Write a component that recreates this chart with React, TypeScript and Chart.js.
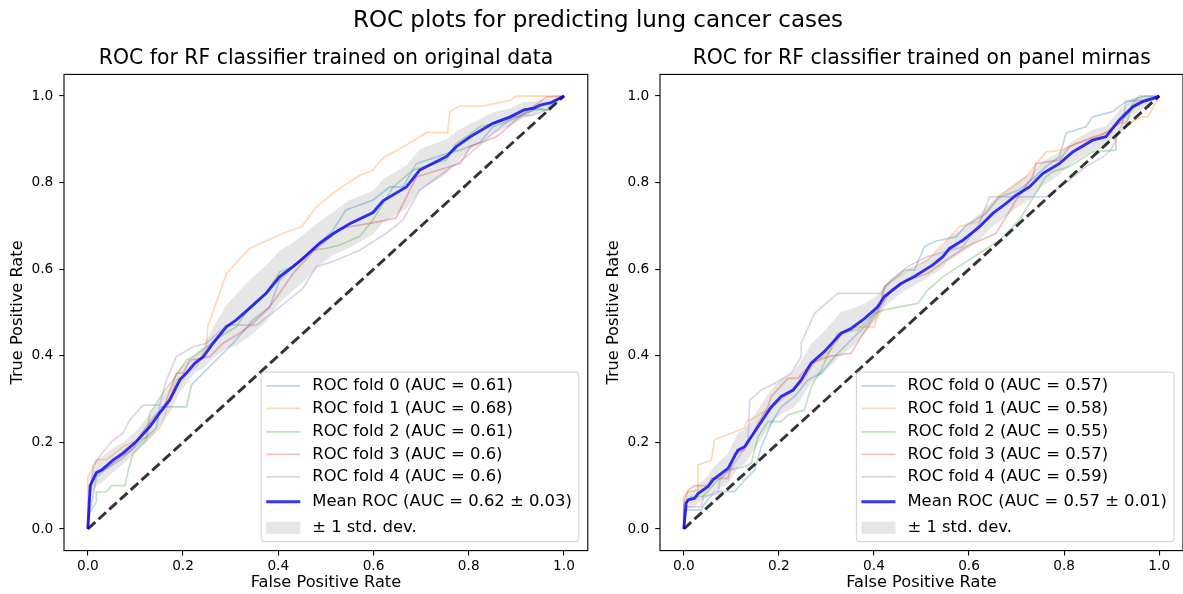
import React, { useEffect, useRef } from 'react';
import { Chart, registerables } from 'chart.js';

Chart.register(...registerables);

const FONT = '"DejaVu Sans", sans-serif';

const SUPTITLE = 'ROC plots for predicting lung cancer cases';
const TITLE_LEFT = 'ROC for RF classifier trained on original data';
const TITLE_RIGHT = 'ROC for RF classifier trained on panel mirnas';
const X_LABEL = 'False Positive Rate';
const Y_LABEL = 'True Positive Rate';
const TICKS = [0, 0.2, 0.4, 0.6, 0.8, 1.0];
const FOLD_RGB = ['31,119,180', '255,127,14', '44,160,44', '214,39,40', '148,103,189'];
const STD_LABEL = '± 1 std. dev.';
const CHANCE: number[][] = [[0, 0], [1, 1]];

// ---------- Left panel (original data) ----------
const LEFT_AUC = ['0.61', '0.68', '0.61', '0.6', '0.6'];
const LEFT_MEAN_LABEL = 'Mean ROC (AUC = 0.62 ± 0.03)';

const L_FOLD0 = [[0,0],[0.004,0.04],[0.011,0.075],[0.018,0.12],[0.04,0.14],[0.07,0.16],[0.1,0.19],[0.125,0.215],[0.144,0.233],[0.151,0.282],[0.207,0.282],[0.218,0.333],[0.263,0.383],[0.305,0.429],[0.347,0.483],[0.382,0.513],[0.403,0.575],[0.431,0.606],[0.487,0.66],[0.515,0.69],[0.542,0.737],[0.599,0.76],[0.634,0.79],[0.662,0.79],[0.69,0.844],[0.753,0.867],[0.782,0.875],[0.824,0.894],[0.851,0.929],[0.908,0.952],[0.942,0.972],[0.964,0.968],[0.978,0.986],[1,1]];
const L_FOLD1 = [[0,0],[0,0.12],[0.018,0.16],[0.04,0.16],[0.074,0.19],[0.102,0.205],[0.13,0.213],[0.151,0.233],[0.158,0.252],[0.172,0.298],[0.186,0.344],[0.207,0.36],[0.228,0.375],[0.249,0.421],[0.252,0.467],[0.291,0.59],[0.34,0.648],[0.41,0.683],[0.449,0.698],[0.48,0.744],[0.529,0.787],[0.571,0.817],[0.599,0.829],[0.62,0.857],[0.669,0.887],[0.712,0.916],[0.756,0.916],[0.76,0.965],[0.782,0.977],[0.83,0.977],[0.887,0.99],[0.9,1.0],[1,1]];
const L_FOLD2 = [[0,0],[0.004,0.037],[0.018,0.063],[0.018,0.085],[0.039,0.086],[0.05,0.1],[0.078,0.1],[0.085,0.136],[0.095,0.175],[0.123,0.205],[0.13,0.267],[0.158,0.314],[0.179,0.344],[0.207,0.39],[0.228,0.402],[0.277,0.444],[0.312,0.467],[0.34,0.513],[0.375,0.545],[0.403,0.594],[0.431,0.606],[0.473,0.644],[0.501,0.648],[0.529,0.656],[0.571,0.676],[0.599,0.714],[0.641,0.79],[0.683,0.829],[0.753,0.852],[0.774,0.891],[0.824,0.929],[0.879,0.945],[0.937,0.968],[0.971,0.968],[0.978,0.986],[1,1]];
const L_FOLD3 = [[0,0],[0.005,0.1],[0.018,0.13],[0.04,0.14],[0.067,0.164],[0.095,0.186],[0.113,0.221],[0.144,0.267],[0.158,0.275],[0.186,0.36],[0.2,0.36],[0.214,0.39],[0.256,0.398],[0.284,0.429],[0.319,0.452],[0.347,0.475],[0.382,0.513],[0.403,0.545],[0.431,0.59],[0.473,0.64],[0.529,0.694],[0.592,0.706],[0.647,0.718],[0.69,0.813],[0.725,0.825],[0.782,0.844],[0.803,0.883],[0.858,0.906],[0.887,0.933],[0.916,0.961],[0.964,0.998],[1,1]];
const L_FOLD4 = [[0,0],[0.011,0.144],[0.025,0.168],[0.05,0.202],[0.074,0.221],[0.088,0.252],[0.116,0.286],[0.151,0.286],[0.165,0.344],[0.186,0.398],[0.221,0.421],[0.249,0.429],[0.291,0.471],[0.354,0.471],[0.396,0.506],[0.452,0.556],[0.48,0.606],[0.515,0.618],[0.571,0.644],[0.627,0.683],[0.662,0.714],[0.697,0.783],[0.745,0.821],[0.795,0.86],[0.851,0.914],[0.893,0.952],[0.935,0.956],[0.964,0.968],[1,1]];
const L_MEAN = [[0,0],[0.005,0.1],[0.018,0.13],[0.029,0.136],[0.053,0.159],[0.074,0.175],[0.102,0.202],[0.13,0.236],[0.151,0.268],[0.172,0.298],[0.193,0.344],[0.207,0.36],[0.225,0.383],[0.242,0.397],[0.263,0.429],[0.291,0.467],[0.312,0.483],[0.34,0.51],[0.375,0.545],[0.403,0.583],[0.431,0.606],[0.452,0.625],[0.487,0.66],[0.515,0.682],[0.55,0.705],[0.599,0.731],[0.62,0.758],[0.669,0.79],[0.697,0.829],[0.753,0.86],[0.774,0.883],[0.803,0.906],[0.851,0.937],[0.887,0.952],[0.916,0.968],[0.937,0.972],[0.95,0.979],[0.971,0.984],[1,1]];
const L_STD = [0,0.02,0.03,0.03,0.028,0.025,0.025,0.028,0.03,0.03,0.028,0.025,0.022,0.025,0.035,0.05,0.06,0.065,0.065,0.06,0.055,0.055,0.05,0.05,0.055,0.05,0.05,0.05,0.048,0.04,0.035,0.03,0.025,0.02,0.018,0.015,0.012,0.01,0];

// ---------- Right panel (panel mirnas) ----------
const RIGHT_AUC = ['0.57', '0.58', '0.55', '0.57', '0.59'];
const RIGHT_MEAN_LABEL = 'Mean ROC (AUC = 0.57 ± 0.01)';

const R_FOLD0 = [[0,0],[0.005,0.044],[0.037,0.044],[0.044,0.059],[0.065,0.086],[0.107,0.086],[0.128,0.113],[0.149,0.136],[0.163,0.19],[0.184,0.244],[0.205,0.282],[0.233,0.306],[0.261,0.344],[0.289,0.36],[0.317,0.398],[0.352,0.436],[0.387,0.475],[0.415,0.521],[0.422,0.56],[0.464,0.598],[0.485,0.598],[0.506,0.652],[0.527,0.664],[0.573,0.675],[0.594,0.702],[0.636,0.729],[0.664,0.767],[0.706,0.783],[0.727,0.802],[0.762,0.837],[0.79,0.86],[0.804,0.914],[0.846,0.929],[0.86,0.952],[0.902,0.964],[0.93,0.987],[0.96,0.99],[1,1]];
const R_FOLD1 = [[0,0],[0,0.075],[0.009,0.086],[0.03,0.09],[0.03,0.148],[0.058,0.159],[0.065,0.206],[0.128,0.233],[0.132,0.248],[0.177,0.275],[0.205,0.298],[0.247,0.336],[0.275,0.383],[0.31,0.413],[0.331,0.448],[0.366,0.467],[0.401,0.467],[0.422,0.56],[0.471,0.598],[0.513,0.621],[0.58,0.698],[0.62,0.71],[0.664,0.771],[0.692,0.79],[0.72,0.814],[0.762,0.871],[0.797,0.875],[0.825,0.891],[0.874,0.906],[0.916,0.937],[0.944,0.941],[0.965,0.952],[0.976,0.952],[0.986,0.971],[1,1]];
const R_FOLD2 = [[0,0],[0,0.055],[0.016,0.075],[0.04,0.075],[0.072,0.113],[0.093,0.136],[0.128,0.144],[0.142,0.152],[0.156,0.213],[0.177,0.248],[0.205,0.248],[0.219,0.263],[0.254,0.275],[0.268,0.329],[0.289,0.367],[0.324,0.452],[0.366,0.46],[0.401,0.498],[0.422,0.506],[0.492,0.521],[0.513,0.552],[0.545,0.583],[0.622,0.637],[0.664,0.667],[0.706,0.714],[0.762,0.814],[0.776,0.825],[0.811,0.837],[0.86,0.871],[0.909,0.875],[0.909,0.906],[0.93,0.933],[0.944,0.983],[0.958,1.0],[1,1]];
const R_FOLD3 = [[0,0],[0,0.06],[0.009,0.09],[0.023,0.1],[0.051,0.1],[0.058,0.117],[0.093,0.117],[0.107,0.175],[0.128,0.182],[0.156,0.244],[0.177,0.282],[0.184,0.306],[0.219,0.348],[0.24,0.348],[0.268,0.383],[0.303,0.398],[0.352,0.406],[0.373,0.444],[0.415,0.513],[0.436,0.552],[0.471,0.575],[0.513,0.59],[0.552,0.621],[0.594,0.652],[0.657,0.683],[0.678,0.721],[0.699,0.76],[0.734,0.814],[0.741,0.844],[0.79,0.852],[0.811,0.883],[0.853,0.902],[0.895,0.918],[0.923,0.945],[0.951,0.983],[1,1]];
const R_FOLD4 = [[0,0],[0.005,0.051],[0.037,0.051],[0.041,0.075],[0.072,0.082],[0.076,0.113],[0.097,0.136],[0.121,0.175],[0.135,0.206],[0.139,0.298],[0.163,0.321],[0.191,0.336],[0.226,0.36],[0.247,0.398],[0.247,0.429],[0.275,0.498],[0.324,0.544],[0.415,0.544],[0.436,0.575],[0.471,0.606],[0.513,0.629],[0.538,0.637],[0.587,0.652],[0.622,0.706],[0.643,0.767],[0.762,0.767],[0.811,0.806],[0.846,0.837],[0.888,0.864],[0.902,0.883],[0.923,0.937],[0.93,0.987],[0.972,1.0],[1,1]];
const R_MEAN = [[0,0],[0.005,0.06],[0.009,0.067],[0.023,0.071],[0.03,0.082],[0.051,0.098],[0.062,0.114],[0.093,0.14],[0.114,0.182],[0.128,0.19],[0.156,0.236],[0.184,0.282],[0.205,0.306],[0.23,0.321],[0.247,0.344],[0.268,0.383],[0.296,0.41],[0.331,0.452],[0.352,0.463],[0.38,0.486],[0.408,0.513],[0.422,0.537],[0.457,0.567],[0.485,0.583],[0.524,0.61],[0.545,0.629],[0.559,0.648],[0.587,0.667],[0.622,0.698],[0.65,0.729],[0.678,0.752],[0.699,0.771],[0.727,0.79],[0.755,0.821],[0.79,0.844],[0.818,0.871],[0.86,0.898],[0.888,0.906],[0.916,0.945],[0.944,0.975],[0.965,0.987],[0.986,0.994],[1,1]];
const R_STD = [0,0.015,0.02,0.02,0.022,0.025,0.028,0.035,0.04,0.04,0.04,0.04,0.04,0.042,0.043,0.045,0.048,0.05,0.045,0.035,0.027,0.025,0.022,0.02,0.022,0.025,0.027,0.028,0.03,0.03,0.03,0.03,0.03,0.028,0.026,0.025,0.025,0.024,0.023,0.02,0.015,0.01,0];

// ---------- styling constants ----------
const LEG_FONT = 16.4;
const LEG_ROWS = [13.7, 36.3, 59.7, 82.3, 104.7, 129.7, 155.7];
const LEG_H = 169.5;
const LEG_TEXT_OFF = 51;
const FOLD_LW = 1.7;
const MEAN_LW = 2.9;

const toPts = (arr: number[][]) => arr.map(([x, y]) => ({ x, y }));

const mplLegend = {
  id: 'mplLegend',
  afterDraw(chart: any, _args: any, opts: any) {
    const items = opts.items || [];
    const { ctx, chartArea } = chart;
    ctx.save();
    ctx.font = `${LEG_FONT}px ${FONT}`;
    let maxW = 0;
    items.forEach((it: any) => { maxW = Math.max(maxW, ctx.measureText(it.label).width); });
    const w = LEG_TEXT_OFF + maxW + 7;
    const x0 = chartArea.right - 9 - w;
    const y0 = chartArea.bottom - 9 - LEG_H;
    ctx.beginPath();
    if (ctx.roundRect) ctx.roundRect(x0, y0, w, LEG_H, 3); else ctx.rect(x0, y0, w, LEG_H);
    ctx.fillStyle = 'rgba(255,255,255,0.8)';
    ctx.fill();
    ctx.strokeStyle = 'rgba(204,204,204,0.8)';
    ctx.lineWidth = 1.1;
    ctx.stroke();
    items.forEach((it: any, i: number) => {
      const cy = y0 + LEG_ROWS[i];
      if (it.kind === 'line') {
        ctx.beginPath();
        ctx.moveTo(x0 + 5, cy);
        ctx.lineTo(x0 + 39, cy);
        ctx.strokeStyle = it.color;
        ctx.lineWidth = it.width;
        ctx.setLineDash([]);
        ctx.stroke();
      } else {
        ctx.fillStyle = it.color;
        ctx.fillRect(x0 + 5, cy - 6, 34, 12);
      }
      ctx.fillStyle = '#000';
      ctx.textBaseline = 'middle';
      ctx.textAlign = 'left';
      ctx.fillText(it.label, x0 + LEG_TEXT_OFF, cy);
    });
    ctx.restore();
  },
};

const framePlugin = {
  id: 'frame',
  afterDatasetsDraw(chart: any) {
    const { ctx, chartArea } = chart;
    ctx.save();
    ctx.strokeStyle = '#000';
    ctx.lineWidth = 1.1;
    ctx.strokeRect(chartArea.left, chartArea.top, chartArea.right - chartArea.left, chartArea.bottom - chartArea.top);
    ctx.restore();
  },
};

type PanelProps = {
  folds: number[][][];
  mean: number[][];
  std: number[];
  aucs: string[];
  meanLabel: string;
  width: number;
  padRight: number;
};

function RocPanel({ folds, mean, std, aucs, meanLabel, width, padRight }: PanelProps) {
  const ref = useRef<HTMLCanvasElement | null>(null);
  useEffect(() => {
    if (!ref.current) return;
    const upper = mean.map(([x, y], i) => ({ x, y: Math.min(y + std[i], 1) }));
    const lower = mean.map(([x, y], i) => ({ x, y: Math.max(y - std[i], 0) }));
    const datasets: any[] = [];
    folds.forEach((f, i) => {
      datasets.push({
        label: `ROC fold ${i} (AUC = ${aucs[i]})`,
        data: toPts(f),
        borderColor: `rgba(${FOLD_RGB[i]},0.3)`,
        borderWidth: FOLD_LW,
        pointRadius: 0,
        fill: false,
        tension: 0,
        order: 6 - i,
      });
    });
    datasets.push({
      label: 'Chance',
      data: toPts(CHANCE),
      borderColor: 'rgba(0,0,0,0.8)',
      borderWidth: MEAN_LW,
      borderDash: [10.1, 4.4],
      pointRadius: 0,
      fill: false,
      order: 1,
    });
    datasets.push({
      label: meanLabel,
      data: toPts(mean),
      borderColor: 'rgba(0,0,255,0.8)',
      borderWidth: MEAN_LW,
      pointRadius: 0,
      fill: false,
      order: 0,
    });
    datasets.push({
      label: 'upper',
      data: upper,
      borderWidth: 0,
      borderColor: 'rgba(0,0,0,0)',
      backgroundColor: 'rgba(128,128,128,0.2)',
      pointRadius: 0,
      fill: '+1',
      order: 8,
    });
    datasets.push({
      label: 'lower',
      data: lower,
      borderWidth: 0,
      borderColor: 'rgba(0,0,0,0)',
      pointRadius: 0,
      fill: false,
      order: 9,
    });

    const items = [
      ...folds.map((_, i) => ({ kind: 'line', label: `ROC fold ${i} (AUC = ${aucs[i]})`, color: `rgba(${FOLD_RGB[i]},0.3)`, width: FOLD_LW })),
      { kind: 'line', label: meanLabel, color: 'rgba(0,0,255,0.8)', width: MEAN_LW },
      { kind: 'patch', label: STD_LABEL, color: 'rgba(128,128,128,0.2)' },
    ];

    const tickFont = { family: FONT, size: 13.7 };
    const labelFont = { family: FONT, size: 16.2 };
    const grid = { drawOnChartArea: false, drawTicks: true, tickLength: 4.8, color: '#000', lineWidth: 1.1 };

    const chart = new Chart(ref.current, {
      type: 'line',
      data: { datasets },
      options: {
        responsive: false,
        animation: false,
        devicePixelRatio: 1,
        layout: { padding: { top: 74.4, right: padRight, bottom: 0, left: 0 }, autoPadding: false },
        plugins: {
          legend: { display: false },
          tooltip: { enabled: false },
          title: { display: false },
          mplLegend: { items },
        } as any,
        scales: {
          x: {
            type: 'linear',
            min: -0.05,
            max: 1.05,
            bounds: 'data',
            afterBuildTicks: (s: any) => { s.ticks = TICKS.map((v) => ({ value: v })); },
            afterFit: (s: any) => { s.height = 43.4; s.paddingLeft = 0; s.paddingRight = 0; },
            ticks: { callback: (v: any) => Number(v).toFixed(1), font: tickFont, color: '#000', padding: 2.5, maxRotation: 0, autoSkip: false },
            grid,
            border: { display: false },
            title: { display: true, text: X_LABEL, font: labelFont, color: '#000', padding: { top: 0, bottom: 1.3 } },
          },
          y: {
            type: 'linear',
            min: -0.05,
            max: 1.05,
            bounds: 'data',
            afterBuildTicks: (s: any) => { s.ticks = TICKS.map((v) => ({ value: v })); },
            afterFit: (s: any) => { s.width = 64; s.paddingTop = 0; s.paddingBottom = 0; },
            ticks: { callback: (v: any) => Number(v).toFixed(1), font: tickFont, color: '#000', padding: 6, autoSkip: false },
            grid,
            border: { display: false },
            title: { display: true, text: Y_LABEL, font: labelFont, color: '#000', padding: { top: 8.3, bottom: 0 } },
          },
        },
      } as any,
      plugins: [framePlugin, mplLegend],
    });
    return () => chart.destroy();
  }, []);
  return <canvas ref={ref} width={width} height={594} style={{ display: 'block', width, height: 594 }} />;
}

const titleStyle = (cx: number, top: number, size: number): React.CSSProperties => ({
  position: 'absolute',
  left: cx - 400,
  width: 800,
  top,
  textAlign: 'center',
  fontFamily: FONT,
  fontSize: size,
  lineHeight: `${size}px`,
  color: '#000',
  whiteSpace: 'nowrap',
});

export default function App() {
  return (
    <div style={{ position: 'fixed', left: 0, top: 0, width: 1183, height: 594, background: '#fff', overflow: 'hidden' }}>
      <div style={{ position: 'absolute', left: 0, top: 0 }}>
        <RocPanel folds={[L_FOLD0, L_FOLD1, L_FOLD2, L_FOLD3, L_FOLD4]} mean={L_MEAN} std={L_STD} aucs={LEFT_AUC} meanLabel={LEFT_MEAN_LABEL} width={592} padRight={4.2} />
      </div>
      <div style={{ position: 'absolute', left: 596, top: 0 }}>
        <RocPanel folds={[R_FOLD0, R_FOLD1, R_FOLD2, R_FOLD3, R_FOLD4]} mean={R_MEAN} std={R_STD} aucs={RIGHT_AUC} meanLabel={RIGHT_MEAN_LABEL} width={587} padRight={0} />
      </div>
      <div style={titleStyle(598, 7.5, 23)}>{SUPTITLE}</div>
      <div style={titleStyle(326, 46.7, 20.4)}>{TITLE_LEFT}</div>
      <div style={titleStyle(921.8, 46.7, 20.4)}>{TITLE_RIGHT}</div>
    </div>
  );
}
